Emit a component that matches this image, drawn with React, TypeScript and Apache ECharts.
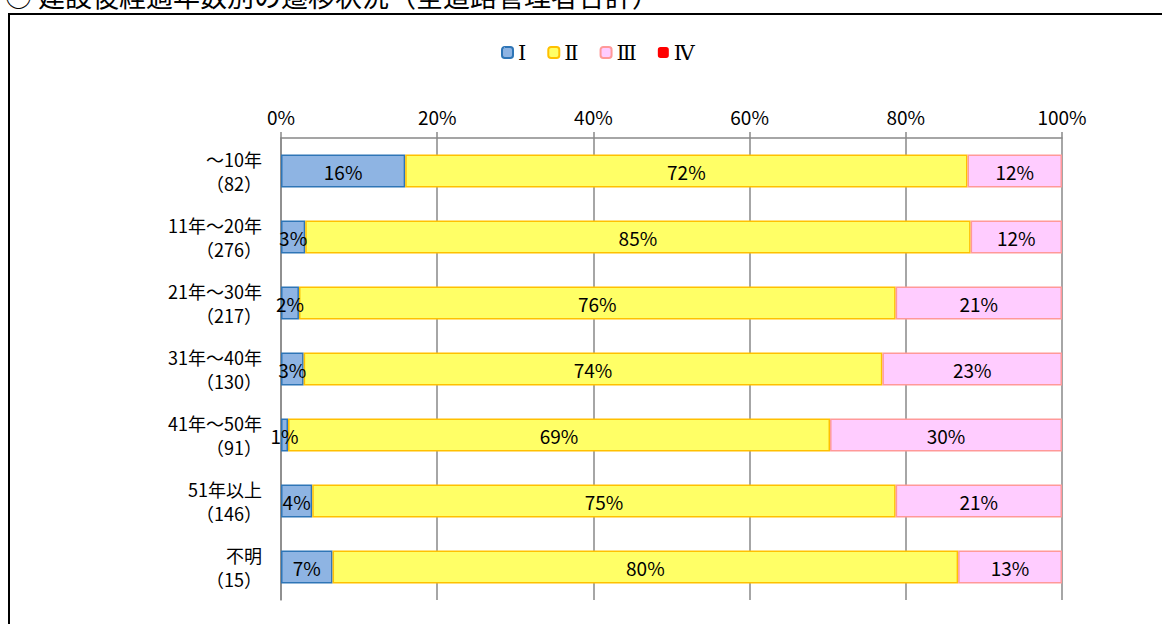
import React, { useEffect, useRef } from "react";
import * as echarts from "echarts";

const categories = ["～10年", "11年～20年", "21年～30年", "31年～40年", "41年～50年", "51年以上", "不明"];
const counts = ["82", "276", "217", "130", "91", "146", "15"];
const seriesNames = ["Ⅰ", "Ⅱ", "Ⅲ", "Ⅳ"];
const valuesI = [15.9, 3.1, 2.3, 2.9, 0.9, 4.0, 6.6];
const valuesII = [72.0, 85.2, 76.4, 74.1, 69.4, 74.7, 80.1];
const valuesIII = [12.1, 11.7, 21.3, 23.0, 29.7, 21.3, 13.3];
const valuesIV = [0, 0, 0, 0, 0, 0, 0];
const xTicks = [0, 20, 40, 60, 80, 100];

const fills = ["#8EB4E3", "#FFFF66", "#FFCCFF", "#FF0000"];
const borders = ["#2E75B6", "#FFC000", "#FF9999", "#FF0000"];

const CJK = "'Noto Sans CJK JP', 'Noto Sans', sans-serif";

export default function App() {
  const ref = useRef<HTMLDivElement>(null);
  useEffect(() => {
    if (!ref.current) return;
    const chart = echarts.init(ref.current, undefined, { renderer: "svg" });
    const allValues = [valuesI, valuesII, valuesIII, valuesIV];
    const series = seriesNames.map((name, i) => ({
      name,
      type: "bar",
      stack: "total",
      barWidth: "50%",
      data: allValues[i],
      itemStyle: {
        color: fills[i],
        borderColor: borders[i],
        borderWidth: i === 3 ? 0 : 1.5,
      },
      label: {
        show: i < 3,
        position: "inside",
        color: "#000",
        fontSize: 19,
        fontFamily: CJK,
        formatter: (p: any) => `${Math.round(p.value)}%`,
      },
    }));
    chart.setOption({
      animation: false,
      backgroundColor: "#fff",
      graphic: [
        {
          type: "text",
          left: 5,
          top: -18,
          style: {
            text: "○ 建設後経過年数別の遷移状況（全道路管理者合計）",
            fontSize: 27,
            fontFamily: CJK,
            fill: "#000",
          },
        },
        {
          type: "rect",
          shape: { x: 9, y: 14, width: 1300, height: 800 },
          style: { fill: "none", stroke: "#000", lineWidth: 2 },
          silent: true,
        },
      ],
      legend: {
        data: seriesNames,
        top: 37,
        left: 496,
        itemWidth: 11,
        itemHeight: 11,
        itemGap: 21,
        textStyle: { fontSize: 21, color: "#000", fontFamily: "'DejaVu Serif', serif" },
      },
      grid: { left: 281, right: 100, top: 138, bottom: 24 },
      xAxis: {
        type: "value",
        position: "top",
        min: 0,
        max: 100,
        interval: 20,
        axisLine: { show: true, lineStyle: { color: "#888", width: 1.5 } },
        axisTick: { show: true, length: 6, lineStyle: { color: "#888", width: 1.5 } },
        splitLine: { show: true, lineStyle: { color: "#888", width: 1.5 } },
        axisLabel: {
          fontSize: 19,
          color: "#000",
          fontFamily: CJK,
          margin: 12,
          formatter: (v: number) => (xTicks.includes(v) ? `${v}%` : ""),
        },
      },
      yAxis: {
        type: "category",
        inverse: true,
        data: categories,
        axisLine: { show: true, lineStyle: { color: "#888", width: 1.5 } },
        axisTick: { show: false },
        axisLabel: {
          margin: 19,
          align: "right",
          formatter: (v: string, idx: number) => `{a|${v}}\n{a|（${counts[idx]}）}`,
          rich: {
            a: { fontSize: 18, lineHeight: 24, color: "#000", fontFamily: CJK, align: "right" },
          },
        },
      },
      series,
    });
    return () => chart.dispose();
  }, []);
  return (
    <div
      ref={ref}
      style={{ position: "fixed", left: 0, top: 0, width: 1162, height: 624 }}
    />
  );
}
